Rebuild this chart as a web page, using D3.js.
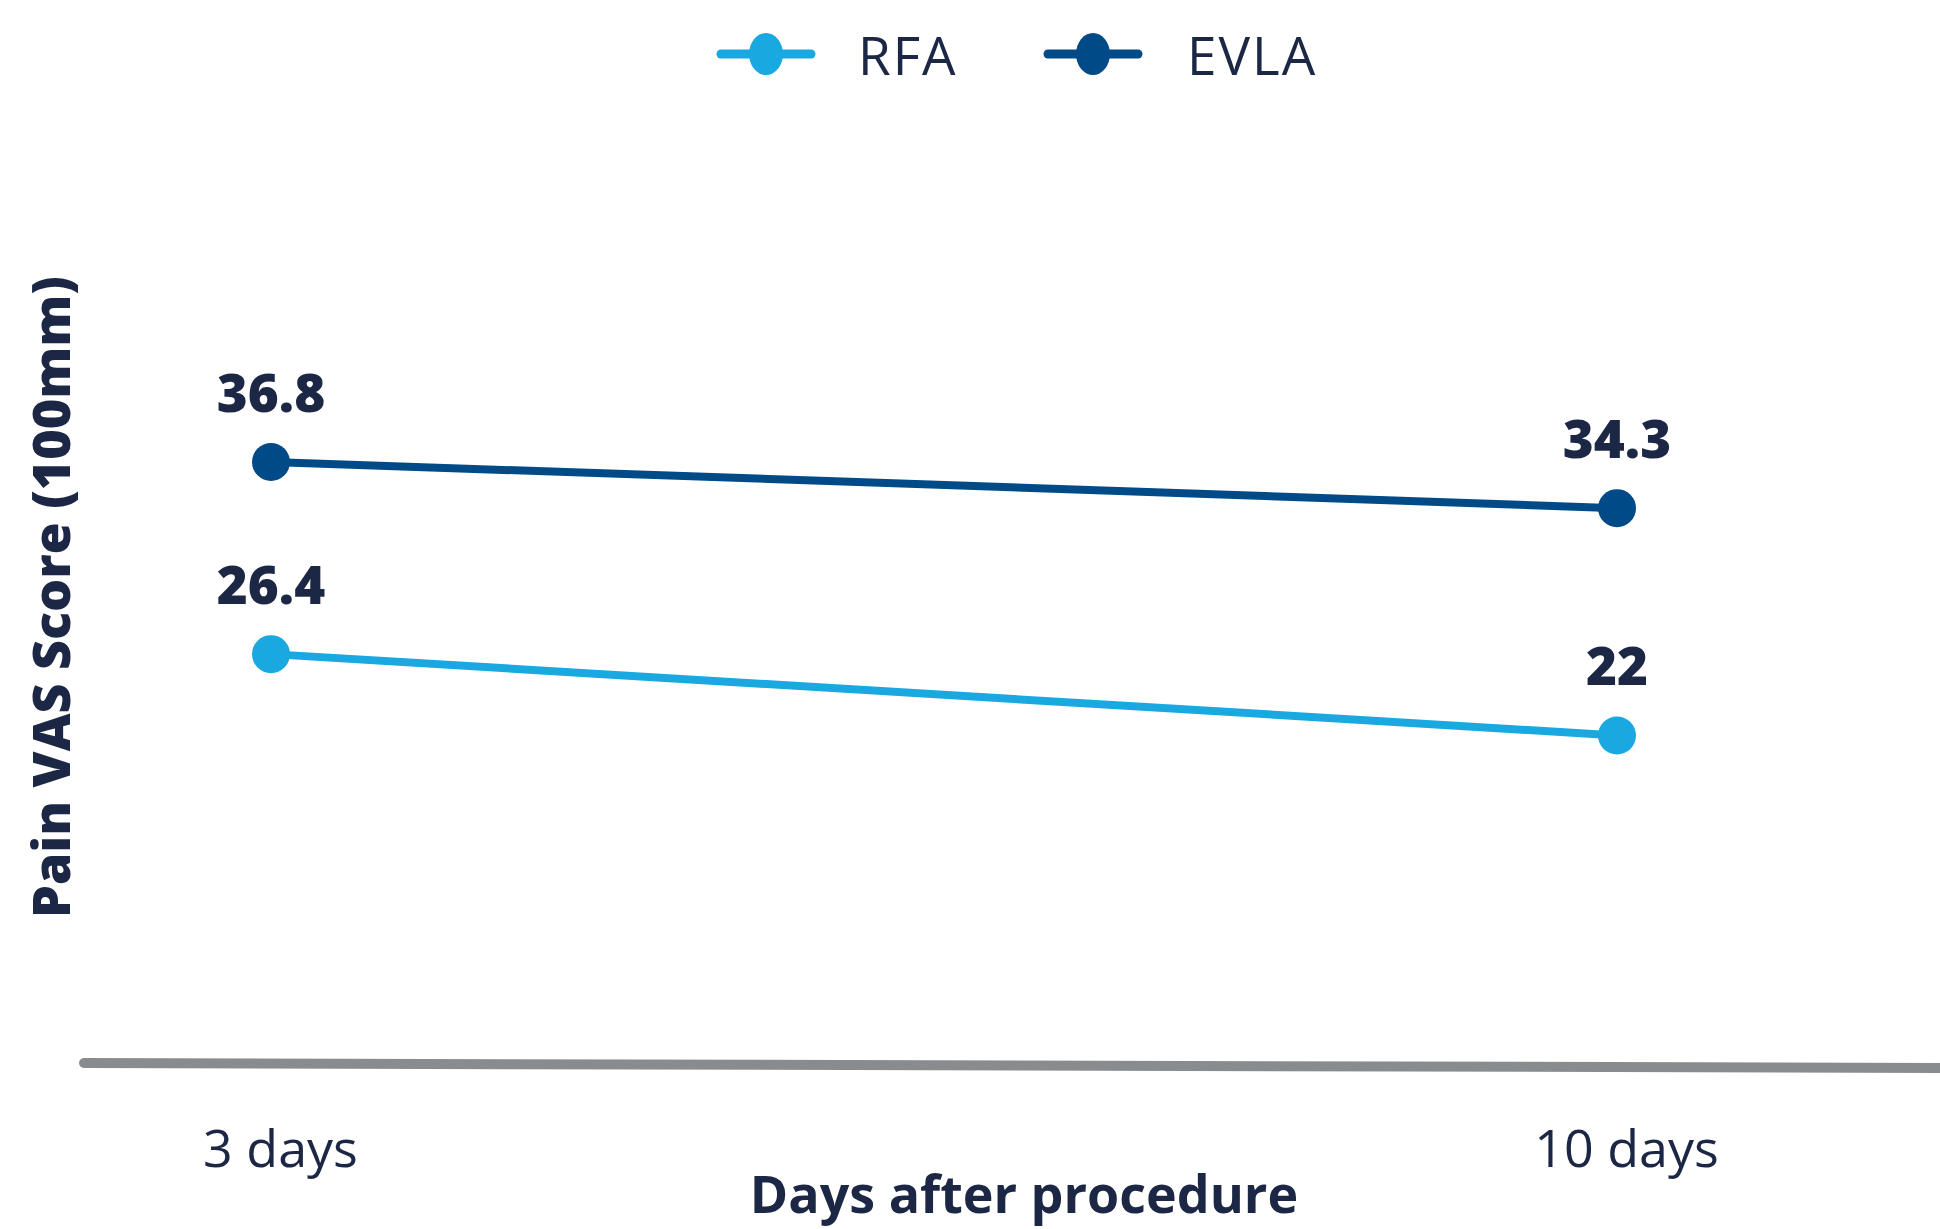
<!DOCTYPE html>
<html>
<head>
<meta charset="utf-8">
<script src="https://cdn.jsdelivr.net/npm/d3@7"></script>
<style>
  html, body { margin: 0; padding: 0; background: #ffffff; }
  svg { display: block; }
  text { font-family: "Open Sans", Lato, sans-serif; fill: #1b2744; }
</style>
</head>
<body>
<svg id="chart" width="1940" height="1229"></svg>
<script>
// Time points after the procedure
const categories = ["3 days", "10 days"];
// Mean pain VAS score (100 mm scale) per treatment
const seriesNames = ["RFA", "EVLA"];
const rfaValues = [26.4, 22];
const evlaValues = [36.8, 34.3];
const seriesColors = ["#19a9e0", "#004b87"];

const series = [
  { name: seriesNames[0], values: rfaValues, color: seriesColors[0] },
  { name: seriesNames[1], values: evlaValues, color: seriesColors[1] }
];

const svg = d3.select("#chart");
const W = 1940, H = 1229;

const x = d3.scalePoint().domain(categories).range([271, 1617]);
const y = d3.scaleLinear().domain([0, 50]).range([1142, 218]);

// Baseline / x axis
const axisY = 1066;
const xAxis = d3.axisBottom(x).tickSize(0).tickPadding(0);
const gx = svg.append("g")
  .attr("transform", `translate(9, ${axisY})`)
  .call(xAxis);
gx.select(".domain").remove();
gx.selectAll(".tick text")
  .attr("y", 101)
  .attr("dy", 0)
  .style("font-size", "52px")
  .style("font-weight", 400)
  .style("font-family", "'Open Sans', sans-serif")
  .attr("fill", "#1b2744");

svg.append("line")
  .attr("x1", 84).attr("x2", W + 10)
  .attr("y1", axisY - 3).attr("y2", axisY + 2)
  .attr("stroke", "#898c8f")
  .attr("stroke-width", 10)
  .attr("stroke-linecap", "round");

// Axis titles
svg.append("text")
  .attr("x", 1024).attr("y", 1213)
  .attr("text-anchor", "middle")
  .style("font-size", "52px")
  .style("font-weight", 700)
  .text("Days after procedure");

svg.append("text")
  .attr("transform", "translate(70, 597) rotate(-90)")
  .attr("text-anchor", "middle")
  .style("font-size", "52px")
  .style("font-weight", 800)
  .text("Pain VAS Score (100mm)");

// Series lines, markers and value labels
const line = d3.line()
  .x((d, i) => x(categories[i]))
  .y(d => y(d));

const g = svg.append("g");
series.forEach(s => {
  g.append("path")
    .datum(s.values)
    .attr("d", line)
    .attr("fill", "none")
    .attr("stroke", s.color)
    .attr("stroke-width", 8);

  g.selectAll(null)
    .data(s.values)
    .join("ellipse")
    .attr("cx", (d, i) => x(categories[i]))
    .attr("cy", d => y(d))
    .attr("rx", 19)
    .attr("ry", 19)
    .attr("fill", s.color);

  g.selectAll(null)
    .data(s.values)
    .join("text")
    .attr("x", (d, i) => x(categories[i]))
    .attr("y", d => y(d) - 50)
    .attr("text-anchor", "middle")
    .style("font-size", "53px")
    .style("font-weight", 800)
    .text(d => d3.format("")(d));
});

// Legend
const legendItems = [
  { s: series[0], cx: 766, tx: 858 },
  { s: series[1], cx: 1093, tx: 1187 }
];
const lg = svg.append("g");
legendItems.forEach(it => {
  lg.append("line")
    .attr("x1", it.cx - 45).attr("x2", it.cx + 45)
    .attr("y1", 54).attr("y2", 54)
    .attr("stroke", it.s.color)
    .attr("stroke-width", 9)
    .attr("stroke-linecap", "round");
  lg.append("ellipse")
    .attr("cx", it.cx).attr("cy", 54)
    .attr("rx", 17).attr("ry", 21)
    .attr("fill", it.s.color);
  lg.append("text")
    .attr("x", it.tx).attr("y", 75)
    .style("font-size", "53px")
    .style("font-weight", 400)
    .style("letter-spacing", "2px")
    .text(it.s.name);
});
</script>
</body>
</html>
